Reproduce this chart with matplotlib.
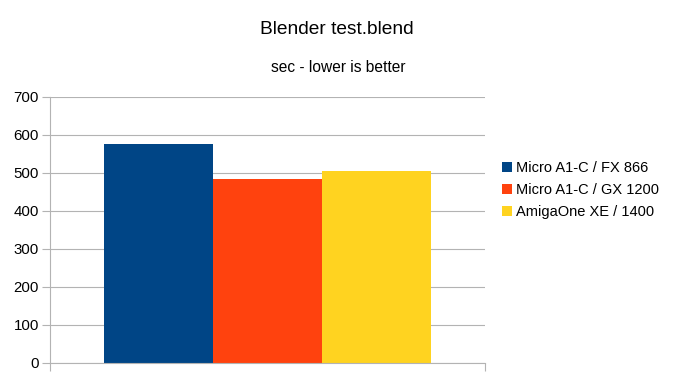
import matplotlib.pyplot as plt
import numpy as np

plt.rcParams['font.family'] = ['Liberation Sans', 'DejaVu Sans']

series_names = ['Micro A1-C / FX 866', 'Micro A1-C / GX 1200', 'AmigaOne XE / 1400']
series_values = [576, 483, 504]
series_colors = ['#004586', '#ff420e', '#ffd320']
y_ticks = [0, 100, 200, 300, 400, 500, 600, 700]

fig = plt.figure(figsize=(6.74, 3.79), dpi=100)
ax = fig.add_axes([50 / 674, 1 - 363 / 379, 435 / 674, 266 / 379])

bar_w = 0.25
offsets = (np.arange(len(series_values)) - 1) * bar_w
for off, val, col, name in zip(offsets, series_values, series_colors, series_names):
    ax.bar(off, val, width=bar_w, color=col, label=name, zorder=2)

ax.set_xlim(-0.5, 0.5)
ax.set_ylim(0, 700)
ax.set_yticks(y_ticks)
ax.yaxis.grid(True, color='#b3b3b3', linewidth=0.8, zorder=0)
ax.set_axisbelow(True)
ax.tick_params(axis='y', length=6, color='#b3b3b3', labelsize=10.8, pad=2)
ax.set_xticks([-0.5, 0.5])
ax.set_xticklabels([])
ax.tick_params(axis='x', length=6, color='#b3b3b3')
for s in ['top', 'right']:
    ax.spines[s].set_visible(False)
ax.spines['left'].set_color('#b3b3b3')
ax.spines['bottom'].set_color('#b3b3b3')
ax.spines['left'].set_linewidth(0.8)
ax.spines['bottom'].set_linewidth(0.8)

fig.text(337 / 674, 1 - 30 / 379, 'Blender test.blend', ha='center', va='center', fontsize=13.8)
fig.text(338 / 674, 1 - 68 / 379, 'sec - lower is better', ha='center', va='center', fontsize=11.2)

fig.legend(loc='center left', bbox_to_anchor=(495 / 674, 1 - 190 / 379), frameon=False,
           fontsize=10.5, handlelength=0.65, handleheight=0.65, handletextpad=0.3,
           labelspacing=0.55, borderpad=0)

fig.savefig('out.png', dpi=100)
